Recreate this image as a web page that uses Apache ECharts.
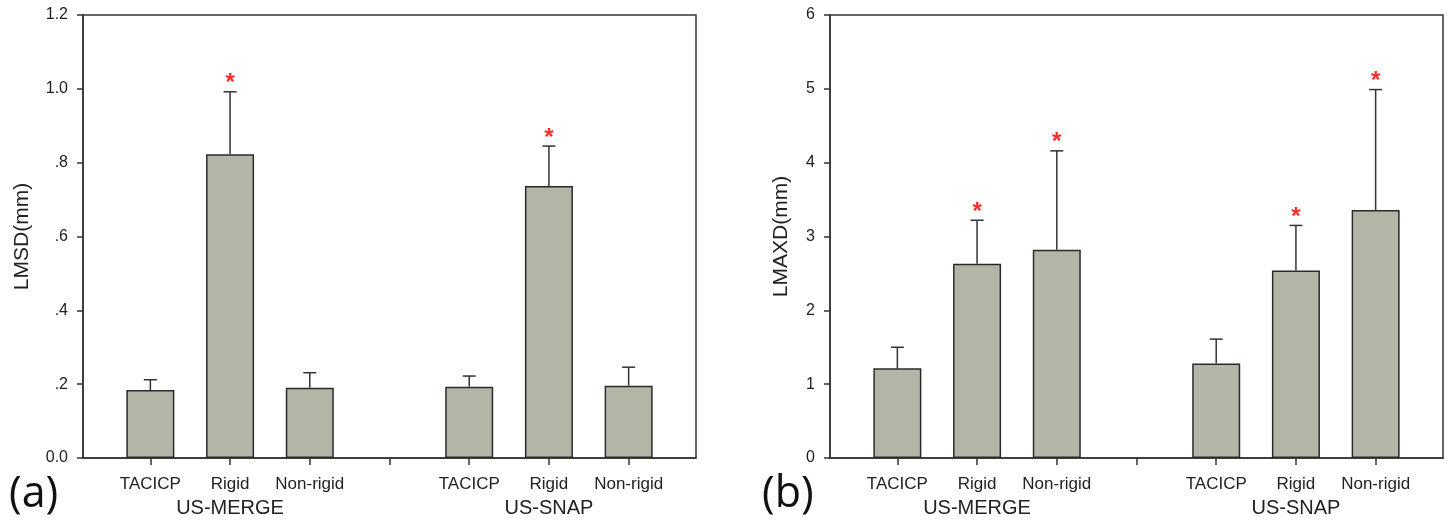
<!DOCTYPE html>
<html>
<head>
<meta charset="utf-8">
<script src="https://cdn.jsdelivr.net/npm/echarts@6/dist/echarts.min.js"></script>
<style>html,body{margin:0;padding:0;background:#fff;}#c{width:1450px;height:521px;}</style>
</head>
<body>
<div id="c"></div>
<script>
// ---- data ----
const categories = ['TACICP', 'Rigid', 'Non-rigid'];
const groups = ['US-MERGE', 'US-SNAP'];
const lmsdMean = [0.184, 0.823, 0.190, 0.193, 0.737, 0.196];
const lmsdErr  = [0.028, 0.169, 0.041, 0.029, 0.108, 0.050];
const lmsdSig  = [0, 1, 0, 0, 1, 0];
const lmaxdMean = [1.215, 2.63, 2.82, 1.28, 2.54, 3.36];
const lmaxdErr  = [0.285, 0.59, 1.34, 0.33, 0.61, 1.63];
const lmaxdSig  = [0, 1, 1, 0, 1, 1];
const lmsdTicks = [0, 0.2, 0.4, 0.6, 0.8, 1.0, 1.2];
const lmaxdTicks = [0, 1, 2, 3, 4, 5, 6];

// x position of each bar: group g, category i -> g*4 + i (slot 3 is the gap)
const xPos = [];
groups.forEach((g, gi) => categories.forEach((c, ci) => xPos.push(gi * 4 + ci)));
const labelOf = {};
xPos.forEach((x, k) => { labelOf[x] = categories[k % 3]; });
const groupPos = groups.map((g, gi) => gi * 4 + 1);
const groupOf = {};
groupPos.forEach((x, k) => { groupOf[x] = groups[k]; });

const FONT = 'Arial, "Liberation Sans", sans-serif';
const AX = '#333';
const XMIN = -0.845, XMAX = 6.845;

function xAxes(gi) {
  return [{
    type: 'value', gridIndex: gi, min: XMIN, max: XMAX,
    splitLine: { show: false },
    axisLine: { show: true, onZero: false, lineStyle: { color: AX, width: 1.5 } },
    axisTick: { show: true, length: 7, lineStyle: { color: AX, width: 1.5 }, customValues: [0, 1, 2, 3, 4, 5, 6] },
    axisLabel: { customValues: xPos, formatter: v => labelOf[Math.round(v)] || '', color: '#222', fontSize: 17, fontFamily: FONT, margin: 18 }
  }, {
    type: 'value', gridIndex: gi, min: XMIN, max: XMAX, position: 'bottom',
    splitLine: { show: false }, axisLine: { show: false, onZero: false }, axisTick: { show: false },
    axisLabel: { customValues: groupPos, formatter: v => groupOf[Math.round(v)] || '', color: '#222', fontSize: 20, fontFamily: FONT, margin: 40 }
  }];
}

function yAxis(gi, ticks, name, fmt, gap) {
  return {
    type: 'value', gridIndex: gi, min: ticks[0], max: ticks[ticks.length - 1],
    interval: ticks[1] - ticks[0],
    name: name, nameLocation: 'middle', nameRotate: 90, nameGap: gap,
    nameTextStyle: { fontSize: 21, fontFamily: FONT, color: '#222' },
    splitLine: { show: false },
    axisLine: { show: true, onZero: false, lineStyle: { color: AX, width: 1.5 } },
    axisTick: { show: true, length: 6, lineStyle: { color: AX, width: 1.5 } },
    axisLabel: { formatter: fmt, color: '#222', fontSize: 16, fontFamily: FONT, margin: 15 }
  };
}

function barSeries(gi, means) {
  return {
    type: 'bar', xAxisIndex: gi * 2, yAxisIndex: gi, barWidth: 48,
    data: xPos.map((x, k) => [x, means[k]]),
    itemStyle: { color: '#b5b5a7', borderColor: '#2a2a2a', borderWidth: 1.5 },
    z: 2
  };
}

function errSeries(gi, means, errs, sigs) {
  return {
    type: 'custom', xAxisIndex: gi * 2, yAxisIndex: gi, z: 3,
    data: xPos.map((x, k) => [x, means[k], means[k] + errs[k], sigs[k]]),
    renderItem: function (params, api) {
      const x = api.value(0);
      const lo = api.coord([x, api.value(1)]);
      const hi = api.coord([x, api.value(2)]);
      const cap = 6.5;
      const children = [
        { type: 'line', shape: { x1: lo[0], y1: lo[1], x2: hi[0], y2: hi[1] }, style: { stroke: '#333', lineWidth: 1.5 } },
        { type: 'line', shape: { x1: hi[0] - cap, y1: hi[1], x2: hi[0] + cap, y2: hi[1] }, style: { stroke: '#333', lineWidth: 1.5 } }
      ];
      if (api.value(3)) {
        children.push({ type: 'text', x: hi[0], y: hi[1] - 8, style: { text: '*', fill: '#ff2a2a', font: 'bold 24px ' + FONT, align: 'center', verticalAlign: 'middle' } });
      }
      return { type: 'group', children: children };
    }
  };
}

const lmsdFmt = v => {
  if (Math.abs(v) < 1e-9) return '0.0';
  if (v < 1) return '.' + Math.round(v * 10);
  return v.toFixed(1);
};

const chart = echarts.init(document.getElementById('c'), null, { renderer: 'canvas' });
chart.setOption({
  animation: false,
  backgroundColor: '#fff',
  grid: [
    { left: 83, top: 15, width: 613, height: 443, show: true, borderColor: AX, borderWidth: 1.5, backgroundColor: 'transparent' },
    { left: 830, top: 15, width: 613, height: 443, show: true, borderColor: AX, borderWidth: 1.5, backgroundColor: 'transparent' }
  ],
  xAxis: [].concat(xAxes(0), xAxes(1)),
  yAxis: [
    yAxis(0, lmsdTicks, 'LMSD(mm)', lmsdFmt, 50),
    yAxis(1, lmaxdTicks, 'LMAXD(mm)', v => String(v), 38)
  ],
  series: [
    barSeries(0, lmsdMean), errSeries(0, lmsdMean, lmsdErr, lmsdSig),
    barSeries(1, lmaxdMean), errSeries(1, lmaxdMean, lmaxdErr, lmaxdSig)
  ],
  graphic: [
    { type: 'text', left: 9, top: 473, style: { text: '(a)', font: '43px "Open Sans", sans-serif', fill: '#111' } },
    { type: 'text', left: 762, top: 473, style: { text: '(b)', font: '43px "Open Sans", sans-serif', fill: '#111' } }
  ]
});
</script>
</body>
</html>
